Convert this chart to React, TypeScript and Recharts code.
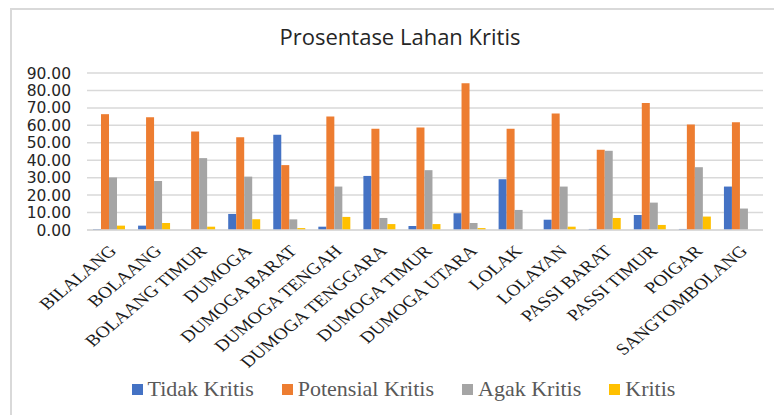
import { BarChart, Bar, XAxis, YAxis, CartesianGrid } from "recharts";

const categories = [
  "BILALANG",
  "BOLAANG",
  "BOLAANG TIMUR",
  "DUMOGA",
  "DUMOGA BARAT",
  "DUMOGA TENGAH",
  "DUMOGA TENGGARA",
  "DUMOGA TIMUR",
  "DUMOGA UTARA",
  "LOLAK",
  "LOLAYAN",
  "PASSI BARAT",
  "PASSI TIMUR",
  "POIGAR",
  "SANGTOMBOLANG",
];
const tidakKritis = [0.5, 2.5, 0, 9.2, 54.6, 1.9, 31.0, 2.3, 9.6, 29.1, 5.9, 0.6, 8.6, 0.6, 24.9];
const potensialKritis = [66.4, 64.7, 56.5, 53.2, 37.2, 65.1, 58.0, 58.8, 84.1, 58.0, 66.8, 46.0, 72.8, 60.5, 61.7];
const agakKritis = [30.1, 28.1, 41.2, 30.6, 6.1, 24.9, 6.9, 34.3, 4.0, 11.5, 24.9, 45.4, 15.7, 36.0, 12.3];
const kritis = [2.5, 4.0, 1.9, 6.1, 1.1, 7.5, 3.4, 3.4, 1.1, 0, 1.9, 6.9, 2.9, 7.7, 0];
const yTicks = [0, 10, 20, 30, 40, 50, 60, 70, 80, 90];

const series = [
  { key: "tidak", name: "Tidak Kritis", color: "#4472C4" },
  { key: "potensial", name: "Potensial Kritis", color: "#ED7D31" },
  { key: "agak", name: "Agak Kritis", color: "#A5A5A5" },
  { key: "kritis", name: "Kritis", color: "#FFC000" },
];

const data = categories.map((name, i) => ({
  name,
  tidak: tidakKritis[i],
  potensial: potensialKritis[i],
  agak: agakKritis[i],
  kritis: kritis[i],
}));

const serif = "'Liberation Serif', 'Times New Roman', 'DejaVu Serif', serif";

// the source picture is stretched sideways, so the labels lean flatter than 45deg
function CategoryTick({ x, y, payload }: any) {
  return (
    <g transform={`translate(${x + 8},${y + 14}) scale(1.2,1) rotate(-45)`}>
      <text x={0} y={0} textAnchor="end" fill="#1a1a1a" fontSize={16.2} fontFamily={serif}>
        {payload.value}
      </text>
    </g>
  );
}

export default function App() {
  return (
    <div style={{ position: "absolute", left: 0, top: 0, width: 774, height: 415, background: "#fff" }}>
      <div
        style={{
          position: "absolute",
          left: 10,
          top: 8,
          width: 764,
          height: 407,
          borderLeft: "2px solid #d9d9d9",
          borderTop: "2px solid #d9d9d9",
          boxSizing: "border-box",
        }}
      />
      <div
        style={{
          position: "absolute",
          left: 0,
          width: 800,
          top: 21,
          textAlign: "center",
          fontFamily: "'Open Sans', sans-serif",
          fontSize: 22,
          color: "#262626",
        }}
      >
        Prosentase Lahan Kritis
      </div>
      <div style={{ position: "absolute", left: 0, top: 0 }}>
        <BarChart
          width={774}
          height={415}
          data={data}
          margin={{ top: 73, right: 11, left: 0, bottom: 75 }}
          barCategoryGap={6}
          barGap={0}
        >
          <CartesianGrid vertical={false} stroke="#d9d9d9" strokeWidth={1.5} />
          <XAxis
            dataKey="name"
            interval={0}
            height={110}
            tickLine={false}
            axisLine={{ stroke: "#d9d9d9", strokeWidth: 1.5 }}
            tick={<CategoryTick />}
          />
          <YAxis
            width={87}
            domain={[0, 90]}
            ticks={yTicks}
            interval={0}
            axisLine={false}
            tickLine={false}
            tickSize={0}
            tickMargin={16}
            tickFormatter={(v: number) => v.toFixed(2)}
            tick={{ fill: "#262626", fontSize: 15.5, fontFamily: "'DejaVu Sans', sans-serif" }}
          />
          {series.map((s) => (
            <Bar key={s.key} dataKey={s.key} name={s.name} fill={s.color} isAnimationActive={false} />
          ))}
        </BarChart>
      </div>
      <div
        style={{
          position: "absolute",
          left: 0,
          width: 807,
          top: 376,
          display: "flex",
          justifyContent: "center",
          gap: 28,
          fontFamily: serif,
          fontSize: 22,
          color: "#595959",
        }}
      >
        {series.map((s) => (
          <span key={s.key} style={{ display: "inline-flex", alignItems: "center", gap: 5 }}>
            <span style={{ width: 11, height: 11, background: s.color, display: "inline-block" }} />
            {s.name}
          </span>
        ))}
      </div>
    </div>
  );
}
